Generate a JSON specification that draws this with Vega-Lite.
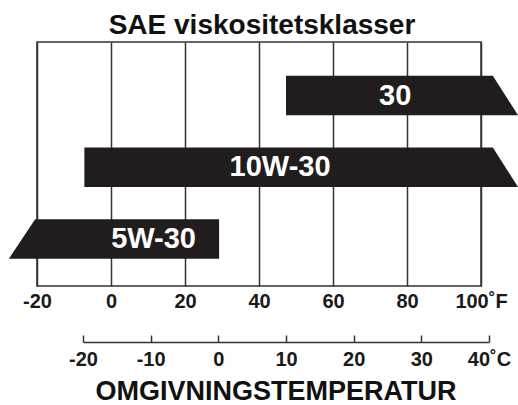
{
  "$schema": "https://vega.github.io/schema/vega-lite/v6.json",
  "width": 444,
  "height": 244,
  "autosize": {"type": "none"},
  "padding": {"left": 37, "top": 42, "right": 37, "bottom": 119},
  "background": "white",
  "title": {"text": "SAE viskositetsklasser", "fontSize": 28, "fontWeight": "bold", "font": "Liberation Sans", "anchor": "middle", "offset": 2, "color": "#111111", "dx": 3},
  "config": {
    "view": {"stroke": "#333333", "strokeWidth": 1.5},
    "font": "Liberation Sans"
  },
  "datasets": {
    "bands": [
      {"sae": "30", "v": 3.275, "lo": 47.3, "hi": 103.2},
      {"sae": "30", "v": 2.725, "lo": 47.3, "hi": 110},
      {"sae": "10W-30", "v": 2.275, "lo": -7.2, "hi": 103.2},
      {"sae": "10W-30", "v": 1.725, "lo": -7.2, "hi": 110},
      {"sae": "5W-30", "v": 1.275, "lo": -20.5, "hi": 29.2},
      {"sae": "5W-30", "v": 0.725, "lo": -27.6, "hi": 29.2}
    ],
    "labels": [
      {"sae": "30", "v": 3, "at": 76.8},
      {"sae": "10W-30", "v": 2, "at": 45.7},
      {"sae": "5W-30", "v": 1, "at": 11.5}
    ],
    "celsius": [{"c": -20}, {"c": 40}]
  },
  "layer": [
    {
      "layer": [
        {
          "data": {"name": "bands"},
          "mark": {"type": "area", "orient": "horizontal", "color": "#211d1e", "opacity": 1},
          "encoding": {
            "x": {"field": "lo", "type": "quantitative",
              "scale": {"domain": [-20, 100], "nice": false, "zero": false},
              "axis": {"values": [-20, 0, 20, 40, 60, 80, 100],
                "labelExpr": "datum.value == 100 ? '100˚F' : '' + datum.value",
                "domain": false, "ticks": false, "grid": true, "gridColor": "#333333", "gridWidth": 1.5, "gridOpacity": 1,
                "labelFontSize": 20, "labelFontWeight": "bold", "labelColor": "#1a1a1a", "labelPadding": 5,
                "labelOverlap": false, "labelFlush": false, "title": null}},
            "x2": {"field": "hi"},
            "y": {"field": "v", "type": "quantitative", "scale": {"domain": [0.345, 3.746], "nice": false, "zero": false}, "axis": null},
            "detail": {"field": "sae"}
          }
        },
        {
          "data": {"name": "labels"},
          "mark": {"type": "text", "color": "white", "fontSize": 29, "fontWeight": "bold", "font": "Liberation Sans", "align": "center", "baseline": "middle"},
          "encoding": {
            "x": {"field": "at", "type": "quantitative", "scale": {"domain": [-20, 100], "nice": false, "zero": false}},
            "y": {"field": "v", "type": "quantitative", "scale": {"domain": [0.345, 3.746], "nice": false, "zero": false}},
            "text": {"field": "sae"}
          }
        }
      ]
    },
    {
      "layer": [
        {
          "data": {"name": "celsius"},
          "mark": {"type": "point", "opacity": 0},
          "encoding": {
            "x": {"field": "c", "type": "quantitative",
              "scale": {"domain": [-20, 40], "range": [46, 452], "nice": false, "zero": false},
              "axis": {"orient": "bottom", "offset": 56, "values": [-20, -10, 0, 10, 20, 30, 40],
                "labelExpr": "datum.value == 40 ? '40˚C' : '' + datum.value",
                "grid": false, "domain": false, "ticks": false,
                "labelFontSize": 20, "labelFontWeight": "bold", "labelColor": "#1a1a1a", "labelPadding": 7,
                "labelOverlap": false, "labelFlush": false,
                "title": "OMGIVNINGSTEMPERATUR", "titleFontSize": 27, "titleFontWeight": "bold", "titleColor": "#111111",
                "titleX": 238.6, "titleY": 57, "titleBaseline": "alphabetic", "titleAlign": "center", "titleAnchor": null}}
          }
        },
        {
          "data": {"name": "celsius"},
          "mark": {"type": "point", "opacity": 0},
          "encoding": {
            "x": {"field": "c", "type": "quantitative",
              "scale": {"domain": [-20, 40], "range": [46, 452], "nice": false, "zero": false},
              "axis": {"orient": "top", "offset": -300, "values": [-20, -10, 0, 10, 20, 30, 40],
                "grid": false, "domain": true, "domainColor": "#333333", "domainWidth": 1.5,
                "ticks": true, "tickSize": 7, "tickColor": "#333333", "tickWidth": 1.5,
                "labels": false, "title": null}}
          }
        }
      ],
      "resolve": {"axis": {"x": "independent"}}
    }
  ],
  "resolve": {"scale": {"x": "independent"}, "axis": {"x": "independent"}}
}
